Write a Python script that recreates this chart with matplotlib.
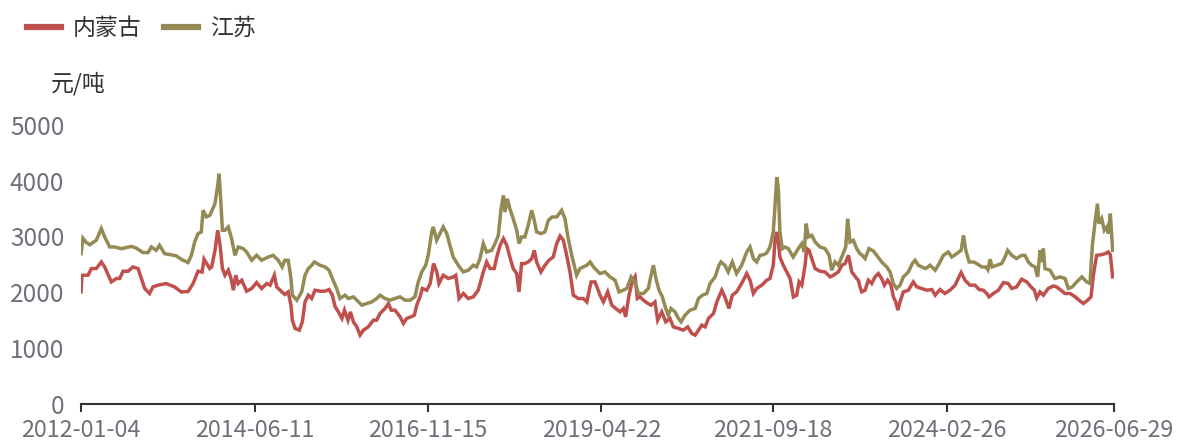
import matplotlib
matplotlib.use("Agg")
import matplotlib.pyplot as plt
import pandas as pd

plt.rcParams['font.family'] = ['Noto Sans CJK SC', 'DejaVu Sans']

series_names = ["内蒙古", "江苏"]
unit_label = "元/吨"
tick_dates = ["2012-01-04", "2014-06-11", "2016-11-15", "2019-04-22",
              "2021-09-18", "2024-02-26", "2026-06-29"]
y_ticks = [0, 1000, 2000, 3000, 4000, 5000]

nmg_dates = [
    "2012-01-04", "2012-01-09", "2012-02-09", "2012-02-26", "2012-03-22", "2012-04-17", "2012-05-04",
    "2012-06-07", "2012-07-03", "2012-07-20", "2012-08-06", "2012-09-01", "2012-09-26", "2012-10-22",
    "2012-11-08", "2012-11-25", "2012-12-20",
    "2013-01-06", "2013-02-01", "2013-03-15", "2013-04-27", "2013-05-31", "2013-07-05", "2013-07-31",
    "2013-08-25", "2013-09-15", "2013-09-25", "2013-10-24", "2013-11-03", "2013-11-20", "2013-12-04",
    "2013-12-16", "2013-12-28",
    "2014-01-10", "2014-01-27", "2014-02-10", "2014-02-22", "2014-03-06", "2014-03-19", "2014-04-06",
    "2014-05-01", "2014-05-27", "2014-06-21", "2014-07-17", "2014-08-12", "2014-08-29", "2014-09-20",
    "2014-10-02", "2014-10-28", "2014-11-13", "2014-11-30", "2014-12-14", "2014-12-21",
    "2015-01-04", "2015-01-26", "2015-02-10", "2015-02-24", "2015-03-13", "2015-03-30", "2015-04-16",
    "2015-05-12", "2015-06-07", "2015-06-27", "2015-07-14", "2015-07-28", "2015-08-14", "2015-09-01",
    "2015-09-14", "2015-10-02", "2015-10-14", "2015-10-30", "2015-11-16", "2015-12-03", "2015-12-20",
    "2016-01-14", "2016-02-09", "2016-02-26", "2016-03-14", "2016-04-09", "2016-04-26", "2016-05-10",
    "2016-05-30", "2016-06-25", "2016-07-12", "2016-07-29", "2016-08-20", "2016-09-06", "2016-09-18",
    "2016-10-05", "2016-10-17", "2016-11-09", "2016-11-26", "2016-12-13", "2016-12-30",
    "2017-01-10", "2017-02-01", "2017-02-27", "2017-03-24", "2017-04-06", "2017-04-23", "2017-05-15",
    "2017-06-09", "2017-07-05", "2017-07-30", "2017-08-25", "2017-09-11", "2017-09-28", "2017-10-20",
    "2017-11-02", "2017-11-19", "2017-12-06", "2017-12-23",
    "2018-01-08", "2018-01-25", "2018-02-12", "2018-02-24", "2018-03-09", "2018-03-26", "2018-04-12",
    "2018-04-30", "2018-05-13", "2018-05-25", "2018-06-16", "2018-07-07", "2018-07-27", "2018-08-18",
    "2018-09-05", "2018-09-22", "2018-10-09", "2018-10-26", "2018-11-12", "2018-11-29", "2018-12-25",
    "2019-01-19", "2019-02-06", "2019-02-28", "2019-03-20", "2019-04-15", "2019-05-02", "2019-05-24",
    "2019-06-14", "2019-07-04", "2019-07-26", "2019-08-12", "2019-08-24", "2019-09-10", "2019-09-27",
    "2019-10-11", "2019-10-23", "2019-11-06", "2019-11-23", "2019-12-16",
    "2020-01-01", "2020-01-21", "2020-02-04", "2020-02-25", "2020-03-16", "2020-04-07", "2020-04-24",
    "2020-05-20", "2020-06-14", "2020-07-07", "2020-07-27", "2020-08-14", "2020-08-31", "2020-09-17",
    "2020-10-04", "2020-10-21", "2020-11-16", "2020-12-03", "2020-12-28",
    "2021-01-13", "2021-02-03", "2021-02-20", "2021-03-14", "2021-04-09", "2021-05-05", "2021-05-22",
    "2021-06-08", "2021-06-25", "2021-07-21", "2021-08-15", "2021-09-01", "2021-09-18", "2021-09-27",
    "2021-10-06", "2021-10-14", "2021-10-22", "2021-11-08", "2021-11-26", "2021-12-13", "2021-12-30",
    "2022-01-16", "2022-01-28", "2022-02-11", "2022-02-28", "2022-03-08", "2022-03-20", "2022-04-03",
    "2022-04-20", "2022-05-15", "2022-06-10", "2022-07-06", "2022-07-23", "2022-08-17", "2022-09-04",
    "2022-09-21", "2022-10-08", "2022-10-25", "2022-11-19", "2022-11-28", "2022-12-06", "2022-12-15",
    "2023-01-01", "2023-01-18", "2023-02-04", "2023-02-21", "2023-03-10", "2023-03-27", "2023-04-10",
    "2023-04-27", "2023-05-14", "2023-05-26", "2023-06-07", "2023-06-18", "2023-06-29", "2023-07-16",
    "2023-08-11", "2023-09-05", "2023-09-23", "2023-10-18", "2023-11-13", "2023-12-09", "2023-12-26",
    "2024-01-20", "2024-02-14", "2024-03-11", "2024-04-06", "2024-04-22", "2024-05-07", "2024-05-27",
    "2024-06-21", "2024-07-17", "2024-08-07", "2024-08-29", "2024-09-15", "2024-09-27", "2024-10-19",
    "2024-11-14", "2024-12-10",
    "2025-01-03", "2025-01-21", "2025-02-15", "2025-03-13", "2025-04-08", "2025-04-30", "2025-05-17",
    "2025-05-29", "2025-06-15", "2025-07-02", "2025-07-27", "2025-08-22", "2025-09-08", "2025-09-30",
    "2025-10-21", "2025-11-16", "2025-12-12",
    "2026-01-01", "2026-01-23", "2026-02-14", "2026-03-03", "2026-03-15", "2026-04-01", "2026-04-23",
    "2026-05-14", "2026-05-31", "2026-06-10", "2026-06-22",
]
nmg_values = [
    2004, 2303, 2303, 2423, 2423, 2541, 2452,
    2183, 2244, 2244, 2375, 2375, 2452, 2423,
    2244, 2065, 1975,
    2093, 2124, 2154, 2093, 2004, 2010, 2154,
    2375, 2360, 2590, 2423, 2452, 2750, 3110,
    2840, 2423,
    2303, 2393, 2244, 2034, 2303, 2154, 2213,
    2016, 2065, 2172, 2065, 2154, 2124, 2303,
    2093, 2004, 1957, 2004, 1765, 1496,
    1348, 1317, 1466, 1824, 1944, 1885, 2034,
    2016, 2016, 2046, 1944, 1740, 1645, 1527,
    1676, 1496, 1645, 1466, 1376, 1228, 1317,
    1376, 1496, 1496, 1616, 1706, 1796, 1676,
    1676, 1556, 1437, 1527, 1556, 1586, 1765,
    1914, 2065, 2034, 2154, 2513, 2362,
    2154, 2303, 2244, 2273, 2303, 1885, 1975,
    1885, 1915, 2034, 2362, 2541, 2423, 2423,
    2630, 2840, 2960, 2840,
    2630, 2423, 2333, 2004, 2513, 2513, 2541,
    2602, 2750, 2541, 2362, 2482, 2572, 2630,
    2871, 3007, 2930, 2660, 2362, 1944, 1885,
    1885, 1824, 2183, 2183, 1944, 1824, 2004,
    1765, 1706, 1645, 1706, 1556, 1944, 2183,
    2273, 1885, 1915, 1855, 1796,
    1765, 1824, 1496, 1645, 1466, 1527, 1376,
    1348, 1317, 1376, 1258, 1228, 1317, 1407,
    1376, 1527, 1616, 1824, 2034,
    1915, 1706, 1944, 2004, 2154, 2333, 2213,
    1975, 2065, 2124, 2213, 2244, 2482, 2930,
    3080, 2900, 2630, 2482, 2362, 2244, 1914,
    1944, 2183, 2124, 2482, 2781, 2750, 2602,
    2423, 2375, 2362, 2273, 2303, 2362, 2482,
    2513, 2660, 2362, 2244, 2213, 2093, 2004,
    2034, 2213, 2154, 2273, 2333, 2244, 2124,
    2213, 2124, 1914, 1824, 1676, 1824, 2004,
    2034, 2183, 2093, 2065, 2034, 2046, 1944,
    2046, 1975, 2034, 2124, 2244, 2351, 2213,
    2124, 2124, 2046, 2034, 1975, 1914, 1975,
    2034, 2172,
    2154, 2065, 2093, 2231, 2183, 2093, 2034,
    1896, 2004, 1944, 2065, 2110, 2093, 2034,
    1975, 1975, 1915,
    1855, 1796, 1855, 1914, 2303, 2660, 2670,
    2690, 2720, 2670, 2273,
]

js_dates = [
    "2012-01-04", "2012-01-14", "2012-01-31", "2012-02-18", "2012-03-05", "2012-03-22", "2012-04-17",
    "2012-05-04", "2012-05-30", "2012-06-25", "2012-07-28", "2012-09-18", "2012-10-13", "2012-11-16",
    "2012-12-12", "2012-12-29",
    "2013-01-23", "2013-02-09", "2013-03-07", "2013-04-10", "2013-05-06", "2013-05-31", "2013-07-05",
    "2013-07-22", "2013-08-08", "2013-08-25", "2013-09-11", "2013-09-20", "2013-10-07", "2013-10-25",
    "2013-11-20", "2013-12-04", "2013-12-11", "2013-12-19", "2013-12-28",
    "2014-01-10", "2014-01-27", "2014-02-13", "2014-03-02", "2014-03-19", "2014-04-14", "2014-05-01",
    "2014-05-27", "2014-06-21", "2014-07-17", "2014-08-20", "2014-09-14", "2014-10-10", "2014-10-30",
    "2014-11-13", "2014-11-30", "2014-12-14", "2014-12-21",
    "2015-01-13", "2015-02-07", "2015-02-24", "2015-03-13", "2015-03-30", "2015-04-13", "2015-05-12",
    "2015-06-07", "2015-06-27", "2015-07-14", "2015-08-05", "2015-08-22", "2015-09-17", "2015-10-04",
    "2015-10-30", "2015-11-16", "2015-12-12",
    "2016-01-06", "2016-02-01", "2016-02-26", "2016-03-14", "2016-04-09", "2016-05-04", "2016-05-30",
    "2016-06-25", "2016-07-20", "2016-08-15", "2016-09-09", "2016-09-26", "2016-10-14", "2016-11-03",
    "2016-11-16", "2016-12-04", "2016-12-12", "2016-12-29",
    "2017-01-15", "2017-02-01", "2017-02-19", "2017-03-07", "2017-03-24", "2017-04-19", "2017-05-14",
    "2017-06-09", "2017-07-05", "2017-07-22", "2017-08-08", "2017-08-25", "2017-09-11", "2017-10-07",
    "2017-10-24", "2017-11-10", "2017-11-24", "2017-12-06", "2017-12-14", "2017-12-26",
    "2018-01-08", "2018-01-25", "2018-02-12", "2018-02-24", "2018-03-09", "2018-03-26", "2018-04-12",
    "2018-04-30", "2018-05-13", "2018-05-25", "2018-06-16", "2018-07-07", "2018-07-24", "2018-08-13",
    "2018-09-05", "2018-09-30", "2018-10-17", "2018-11-03", "2018-11-21", "2018-12-16",
    "2019-01-02", "2019-01-19", "2019-02-06", "2019-02-23", "2019-03-12", "2019-04-06", "2019-04-15",
    "2019-05-10", "2019-06-05", "2019-07-01", "2019-07-21", "2019-08-12", "2019-08-30", "2019-09-21",
    "2019-10-11", "2019-10-28", "2019-11-23", "2019-12-18",
    "2020-01-01", "2020-01-13", "2020-01-26", "2020-02-11", "2020-02-28", "2020-03-16", "2020-03-29",
    "2020-04-12", "2020-05-03", "2020-05-20", "2020-06-03", "2020-06-23", "2020-07-19", "2020-08-14",
    "2020-08-31", "2020-09-20", "2020-10-13", "2020-10-29", "2020-11-24", "2020-12-14", "2020-12-24",
    "2021-01-13", "2021-01-30", "2021-02-20", "2021-03-14", "2021-04-09", "2021-05-05", "2021-05-22",
    "2021-06-08", "2021-06-25", "2021-07-12", "2021-07-29", "2021-08-15", "2021-09-01", "2021-09-18",
    "2021-09-27", "2021-10-06", "2021-10-14", "2021-10-22", "2021-11-03", "2021-11-17", "2021-12-04",
    "2021-12-29",
    "2022-01-24", "2022-02-11", "2022-02-24", "2022-03-05", "2022-03-17", "2022-04-03", "2022-04-20",
    "2022-05-15", "2022-06-10", "2022-07-01", "2022-07-14", "2022-07-31", "2022-08-17", "2022-09-07",
    "2022-09-24", "2022-10-04", "2022-10-16", "2022-11-02", "2022-11-19", "2022-12-06", "2022-12-15",
    "2023-01-01", "2023-01-21", "2023-02-12", "2023-03-02", "2023-03-27", "2023-04-22", "2023-05-09",
    "2023-05-26", "2023-06-12", "2023-06-29", "2023-07-16", "2023-08-11", "2023-08-31", "2023-09-14",
    "2023-10-01", "2023-10-18", "2023-11-08", "2023-11-30", "2023-12-26",
    "2024-01-20", "2024-02-06", "2024-03-02", "2024-03-20", "2024-04-14", "2024-05-07", "2024-05-19",
    "2024-05-31", "2024-06-17", "2024-07-09", "2024-07-26", "2024-08-21", "2024-09-10", "2024-09-21",
    "2024-10-02", "2024-10-13", "2024-11-05", "2024-12-01", "2024-12-18", "2024-12-31",
    "2025-01-21", "2025-02-15", "2025-03-13", "2025-03-30", "2025-04-16", "2025-05-03", "2025-05-20",
    "2025-06-03", "2025-06-15", "2025-06-23", "2025-07-02", "2025-07-10", "2025-08-05", "2025-08-30",
    "2025-09-25", "2025-10-21", "2025-11-07", "2025-11-27", "2025-12-20",
    "2026-01-15", "2026-02-09", "2026-02-26", "2026-03-10", "2026-03-24", "2026-04-05", "2026-04-13",
    "2026-04-27", "2026-05-10", "2026-05-23", "2026-05-31", "2026-06-10", "2026-06-22",
]
js_values = [
    2690, 2966, 2890, 2850, 2890, 2930, 3140,
    2990, 2810, 2810, 2780, 2820, 2790, 2710,
    2710, 2810,
    2750, 2840, 2690, 2670, 2650, 2590, 2530,
    2660, 2900, 3050, 3080, 3470, 3350, 3380,
    3590, 3915, 4125, 3677, 3110,
    3110, 3170, 2960, 2660, 2810, 2780, 2720,
    2572, 2660, 2572, 2630, 2660, 2572, 2452,
    2572, 2572, 2244, 1944,
    1855, 2004, 2303, 2423, 2482, 2541, 2482,
    2452, 2393, 2244, 2065, 1885, 1944, 1885,
    1915, 1855, 1765,
    1795, 1824, 1885, 1944, 1885, 1855, 1885,
    1915, 1855, 1855, 1915, 2183, 2362, 2482,
    2660, 3080, 3170, 2930,
    3050, 3170, 3050, 2840, 2630, 2482, 2362,
    2393, 2482, 2452, 2602, 2871, 2720, 2750,
    2871, 3020, 3498, 3737, 3437, 3677,
    3498, 3319, 3110, 2871, 2990, 2990, 3199,
    3468, 3289, 3080, 3050, 3080, 3289, 3349,
    3349, 3468, 3319, 2960, 2660, 2303,
    2423, 2452, 2482, 2541, 2452, 2362, 2333,
    2362, 2273, 2213, 2004, 2034, 2065, 2273,
    2183, 1975, 1975, 2065,
    2303, 2482, 2244, 2034, 1914, 1706, 1586,
    1706, 1645, 1527, 1466, 1586, 1676, 1706,
    1885, 1944, 1975, 2154, 2273, 2482, 2541,
    2482, 2362, 2541, 2333, 2482, 2720, 2810,
    2602, 2541, 2660, 2670, 2700, 2810, 3080,
    3557, 4065, 3857, 3080, 2781, 2810, 2781,
    2630,
    2781, 2871, 2720, 3229, 2990, 3020, 2900,
    2810, 2781, 2660, 2393, 2541, 2482, 2660,
    2810, 3319, 2900, 2930, 2781, 2690, 2670,
    2602, 2781, 2740, 2660, 2541, 2452, 2362,
    2154, 2065, 2124, 2273, 2362, 2513, 2572,
    2482, 2452, 2423, 2482, 2393,
    2541, 2660, 2720, 2630, 2690, 2750, 3020,
    2750, 2541, 2541, 2513, 2452, 2450, 2400,
    2590, 2452, 2482, 2513, 2630, 2750,
    2660, 2602, 2660, 2660, 2541, 2482, 2452,
    2273, 2750, 2541, 2781, 2423, 2393, 2244,
    2273, 2244, 2065, 2093, 2183,
    2273, 2183, 2154, 2840, 3259, 3588, 3229,
    3319, 3110, 3170, 3050, 3408, 2750,
]

colors = ["#c0504d", "#948a54"]
text_dark = "#333333"
tick_grey = "#6e7079"

fig = plt.figure(figsize=(11.83, 4.42), dpi=100)
ax = fig.add_axes([0.0685, 0.0871, 0.8732, 0.6301])

ax.plot(pd.to_datetime(nmg_dates), nmg_values, color=colors[0], lw=2.5,
        label=series_names[0], solid_joinstyle="miter")
ax.plot(pd.to_datetime(js_dates), js_values, color=colors[1], lw=2.5,
        label=series_names[1], solid_joinstyle="miter")

ax.set_xlim(pd.Timestamp(tick_dates[0]), pd.Timestamp(tick_dates[-1]))
ax.set_ylim(0, 5000)
ax.set_yticks(y_ticks)
ax.set_xticks(pd.to_datetime(tick_dates))
ax.set_xticklabels(tick_dates)

for s in ["top", "right", "left"]:
    ax.spines[s].set_visible(False)
ax.spines["bottom"].set_color(text_dark)
ax.spines["bottom"].set_linewidth(1.5)
ax.tick_params(axis="y", length=0, pad=12, labelsize=17.5, labelcolor=tick_grey)
ax.tick_params(axis="x", length=6, width=1.5, color=text_dark, pad=5,
               labelsize=16.8, labelcolor=tick_grey)
for lbl in ax.get_yticklabels():
    lbl.set_va("center_baseline")

fig.text(0.043, 0.81, unit_label, fontsize=16.5, color=text_dark, ha="left", va="center")

leg = fig.legend(loc="center left", bbox_to_anchor=(0.005, 0.935), ncol=2, frameon=False,
                 fontsize=16.5, handlelength=1.5, handletextpad=0.5, columnspacing=1.0,
                 labelcolor=text_dark)
for line in leg.get_lines():
    line.set_linewidth(4.5)

fig.savefig("out.png", dpi=100)
